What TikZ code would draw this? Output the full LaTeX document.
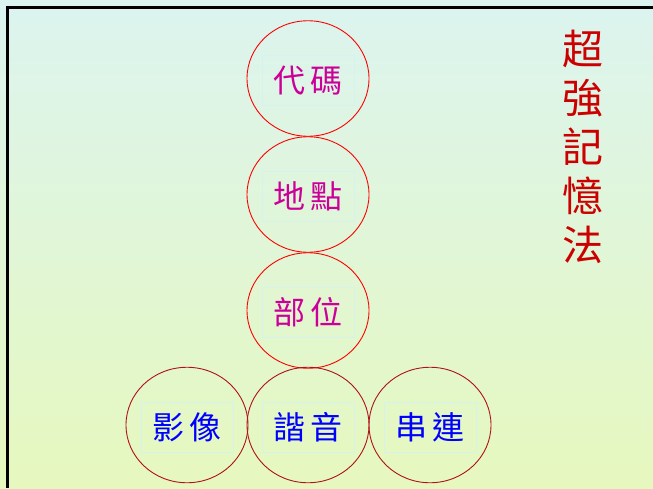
\documentclass[tikz,border=0pt]{standalone}
\usepackage{fontspec}
\newfontfamily\cjk{Noto Sans CJK TC}
\definecolor{topbg}{HTML}{DCF4F0}
\definecolor{botbg}{HTML}{E6F8BE}
\definecolor{ringred}{HTML}{FF0000}
\definecolor{ringdark}{HTML}{B0101E}
\definecolor{txtmag}{HTML}{CC0099}
\definecolor{txtblue}{HTML}{0000FF}
\definecolor{titlered}{HTML}{CC0000}
\definecolor{boxline}{HTML}{D6F2EE}
\tikzset{
  ring/.style={ellipse, minimum width=122pt, minimum height=115.5pt, inner sep=0pt, draw=ringred, line width=0.9pt},
  lowring/.style={ring, draw=ringdark},
  word/.style={font=\cjk\fontsize{32}{32}\selectfont, draw=boxline, line width=0.5pt, minimum width=92pt, minimum height=50pt, yshift=-2pt},
}
\usetikzlibrary{shapes.geometric}
\begin{document}
\begin{tikzpicture}[x=1pt,y=-1pt]
      \useasboundingbox (0,0) rectangle (653,488);
      \shade[top color=topbg, bottom color=botbg] (0,0) rectangle (653,488);
      \draw[line width=3pt] (7,488) -- (7,7) -- (653,7);
      \draw
        (308,78.5) node[ring] (code){}
        (308,194.5) node[ring] (place){}
        (308,310.5) node[ring] (part){}
        (187,425) node[lowring] (image){}
        (308,425) node[lowring] (sound){}
        (430,425) node[lowring] (chain){};
      \begin{scope}[txtmag]
        \node[word] (codet) at (code) {代\,碼};
        \node[word] (placet) at (place) {地\,點};
        \node[word] (partt) at (part) {部\,位};
      \end{scope}
      \begin{scope}[txtblue]
        \node[word] (imaget) at (image) {影\,像};
        \node[word] (soundt) at (sound) {諧\,音};
        \node[word] (chaint) at (chain) {串\,連};
      \end{scope}
      \node[titlered, font=\cjk\fontsize{41}{49}\selectfont, align=center] (title) at (583,147) {超\\強\\記\\憶\\法};
    \end{tikzpicture}
\end{document}
